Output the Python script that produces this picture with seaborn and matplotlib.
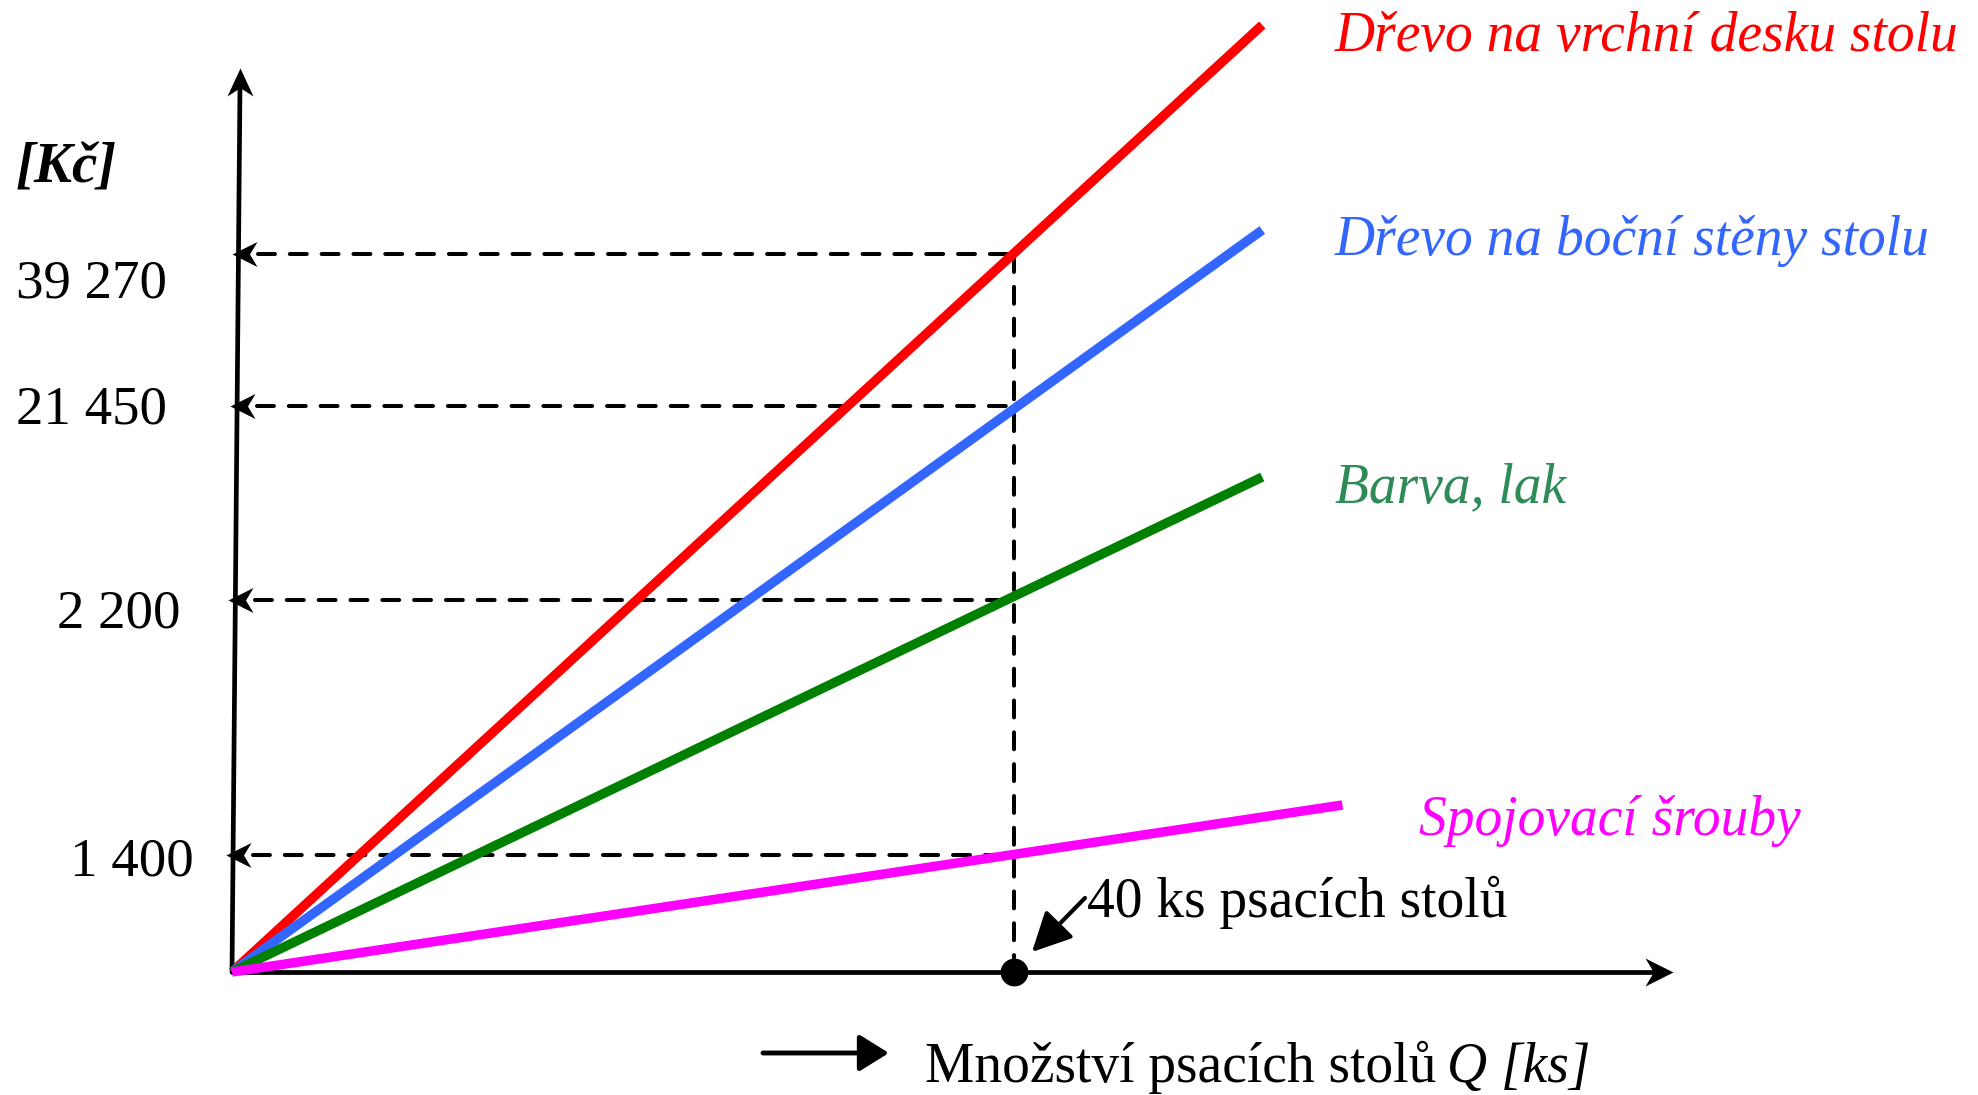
import numpy as np
import pandas as pd
import matplotlib
matplotlib.use("Agg")
import matplotlib.pyplot as plt
import seaborn as sns
from matplotlib.path import Path

# ---------------- data (schematic chart, not to scale) ----------------
series = ["Dřevo na vrchní desku stolu", "Dřevo na boční stěny stolu",
          "Barva, lak", "Spojovací šrouby"]
line_colors = ["#FF0000", "#3366FF", "#008000", "#FF00FF"]
label_colors = ["#FF0000", "#3366FF", "#2E8B57", "#FF00FF"]
cost_at_q40 = [39270, 21450, 2200, 1400]          # Kč shown on the y axis
level_at_q40 = [7.18, 5.66, 3.72, 1.17]           # schematic heights at Q = 40
q_marked = 40                                     # ks psacích stolů
q_end = [52.7, 52.7, 52.7, 56.8]                  # where each line stops
level_end = [9.47, 7.42, 4.95, 1.67]              # schematic heights at q_end

# ---------------- layout ----------------
PX_PER_Q = 19.55
OX, OY = 232, 972          # origin in pixels
W, H = 1978, 1095

sns.set_theme(style="white")
plt.rcParams["font.family"] = ["Liberation Serif", "DejaVu Serif"]

fig = plt.figure(figsize=(W / 100, H / 100), dpi=100)
ax = fig.add_axes([0, 0, 1, 1])
ax.set_xlim(-OX / PX_PER_Q, (W - OX) / PX_PER_Q)
ax.set_ylim(-(H - OY) / 100, OY / 100)
ax.axis("off")


def stealth(angle_deg, L=27, Wd=13, notch=0.7):
    v = np.array([[0, 0], [-L, Wd], [-notch * L, 0], [-L, -Wd], [0, 0]], float)
    a = np.deg2rad(angle_deg)
    R = np.array([[np.cos(a), -np.sin(a)], [np.sin(a), np.cos(a)]])
    v = v @ R.T
    codes = [Path.MOVETO, Path.LINETO, Path.LINETO, Path.LINETO, Path.CLOSEPOLY]
    ms = 2 * np.abs(v).max() * 0.72
    return Path(v, codes), ms


# ---------------- cost lines ----------------
rows = []
for name, qe, le in zip(series, q_end, level_end):
    rows.append({"series": name, "Q": 0.0, "level": 0.0})
    rows.append({"series": name, "Q": qe, "level": le})
df = pd.DataFrame(rows)
sns.lineplot(data=df, x="Q", y="level", hue="series", hue_order=series,
             palette=line_colors, lw=6.8, legend=False, ax=ax, zorder=3,
             solid_capstyle="butt")

# ---------------- axes with arrows ----------------
y_tip = (0.41, 9.04)
axis_slope = y_tip[0] / y_tip[1]
ax.plot([0, y_tip[0]], [0, y_tip[1] - 0.15], color="black", lw=3.4, zorder=2)
p, ms = stealth(90, L=28, Wd=13)
ax.plot([y_tip[0]], [y_tip[1]], marker=p, ms=ms, color="black", mew=0, zorder=4)

x_tip = 73.7
ax.plot([0, x_tip - 0.6], [0, 0], color="black", lw=3.4, zorder=2)
p, ms = stealth(0, L=28, Wd=14)
ax.plot([x_tip], [0], marker=p, ms=ms, color="black", mew=0, zorder=4)

# ---------------- dashed guides ----------------
for lv in level_at_q40:
    ax_x = axis_slope * lv
    ax.plot([ax_x + 1.0, q_marked], [lv, lv], color="black", lw=2.9,
            ls=(0, (4.2, 3.7)), zorder=2, dash_capstyle="round")
    p, ms = stealth(180, L=25, Wd=12.5)
    ax.plot([ax_x - 0.35], [lv], marker=p, ms=ms, color="black", mew=0, zorder=4)
ax.plot([q_marked, q_marked], [0, level_at_q40[0]], color="black", lw=2.9,
        ls=(0, (4.2, 3.7)), zorder=2, dash_capstyle="round")
ax.plot([q_marked], [0], "o", ms=19, color="black", zorder=5)

# ---------------- y value labels ----------------
ylab_right = [-3.35, -3.35, -2.62, -1.97]
ylab_base = [6.74, 5.49, 3.44, 0.97]
for v, xr, yb in zip(cost_at_q40, ylab_right, ylab_base):
    ax.text(xr, yb, f"{v:,}".replace(",", " "), ha="right", va="baseline",
            fontsize=39.5, color="black")
ax.text(-11.05, 7.90, "[Kč]", ha="left", va="baseline", fontsize=41,
        fontweight="bold", fontstyle="italic", color="black")

# ---------------- series labels ----------------
lab_x = [56.42, 56.42, 56.42, 60.7]
lab_base = [9.21, 7.17, 4.70, 1.37]
for name, c, x, yb in zip(series, label_colors, lab_x, lab_base):
    ax.text(x, yb, name, color=c, fontsize=40, fontstyle="italic",
            ha="left", va="baseline")

# ---------------- annotation ----------------
ax.text(43.73, 0.55, f"{q_marked} ks psacích stolů", fontsize=40,
        ha="left", va="baseline", color="black")
ax.annotate("", xy=(40.92, 0.20), xytext=(43.63, 0.74),
            arrowprops=dict(arrowstyle="-|>,head_length=0.6,head_width=0.3",
                            mutation_scale=40, lw=3, color="black",
                            shrinkA=0, shrinkB=0), zorder=5)

# ---------------- x axis caption ----------------
ax.annotate("", xy=(33.6, -0.81), xytext=(27.16, -0.81),
            arrowprops=dict(arrowstyle="-|>,head_length=0.45,head_width=0.28",
                            mutation_scale=40, lw=3.5, color="black",
                            shrinkA=0, shrinkB=0))
t1 = ax.text(35.45, -1.10, "Množství psacích stolů", fontsize=40,
             ha="left", va="baseline", color="black")
fig.canvas.draw()
bb = t1.get_window_extent(renderer=fig.canvas.get_renderer())
x_right = ax.transData.inverted().transform((bb.x1, bb.y0))[0]
ax.text(x_right + 0.55, -1.10, "Q [ks]", fontsize=40, fontstyle="italic",
        ha="left", va="baseline", color="black")

fig.savefig("out.png", dpi=100, facecolor="white")
